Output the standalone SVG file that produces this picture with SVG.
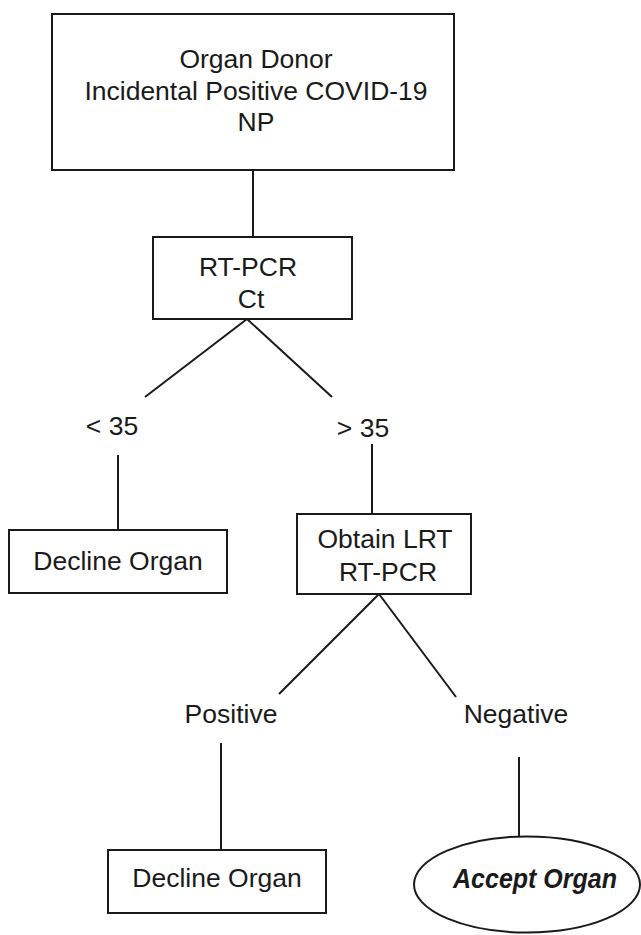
<svg xmlns="http://www.w3.org/2000/svg" width="641" height="935" viewBox="0 0 641 935">
<style>
.box{fill:#fff;stroke:#1a1a1a;stroke-width:2}
.ln{stroke:#1a1a1a;stroke-width:2;fill:none}
text{font-family:"Liberation Sans",Arial,sans-serif;font-size:26.5px;fill:#1a1a1a;text-anchor:middle}
.acc{font-weight:bold;font-style:italic;font-size:28px}
</style>
<rect width="641" height="935" fill="#fff"/>
<g id="connectors">
<line class="ln" x1="253" y1="170" x2="253" y2="237"/>
<line class="ln" x1="247" y1="319" x2="145" y2="397"/>
<line class="ln" x1="247" y1="319" x2="332" y2="397"/>
<line class="ln" x1="118" y1="455" x2="118" y2="530"/>
<line class="ln" x1="372" y1="444" x2="372" y2="514"/>
<line class="ln" x1="379" y1="594" x2="279" y2="694"/>
<line class="ln" x1="379" y1="594" x2="456" y2="697"/>
<line class="ln" x1="221" y1="743" x2="221" y2="850"/>
<line class="ln" x1="519" y1="757" x2="519" y2="836"/>
</g>
<g id="donor">
<rect class="box" x="52" y="14" width="402" height="156"/>
<text x="256" y="68">Organ Donor</text>
<text x="256" y="100">Incidental Positive COVID-19</text>
<text x="256" y="131">NP</text>
</g>
<g id="rtpcr">
<rect class="box" x="153" y="237" width="199" height="82"/>
<text x="248" y="276">RT-PCR</text>
<text x="251" y="308">Ct</text>
</g>
<g id="lt35"><text x="112" y="435">&lt; 35</text></g>
<g id="gt35"><text x="363" y="437">&gt; 35</text></g>
<g id="decline1">
<rect class="box" x="9" y="530" width="218" height="63"/>
<text x="118" y="570">Decline Organ</text>
</g>
<g id="obtain">
<rect class="box" x="297" y="514" width="174" height="80"/>
<text x="385" y="548">Obtain LRT</text>
<text x="388" y="581">RT-PCR</text>
</g>
<g id="positive"><text x="231" y="723">Positive</text></g>
<g id="negative"><text x="516" y="723">Negative</text></g>
<g id="decline2">
<rect class="box" x="108" y="850" width="218" height="63"/>
<text x="217" y="887">Decline Organ</text>
</g>
<g id="accept">
<ellipse class="box" cx="527" cy="884.5" rx="113" ry="48"/>
<text class="acc" x="535" y="888" textLength="164" lengthAdjust="spacingAndGlyphs">Accept Organ</text>
</g>
</svg>
